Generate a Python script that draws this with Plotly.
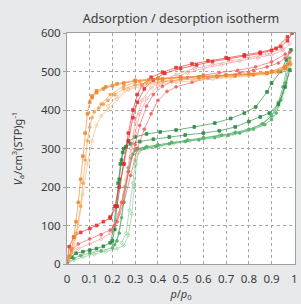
import plotly.graph_objects as go

# ---------------- data ----------------
# Orange samples
o1_ads_p = [0, 0.01, 0.02, 0.03, 0.04, 0.05, 0.06, 0.07, 0.08, 0.09, 0.10, 0.11, 0.13, 0.16, 0.20, 0.25, 0.30, 0.36, 0.42, 0.50, 0.58, 0.66, 0.74, 0.82, 0.88, 0.93, 0.96, 0.98]
o1_ads_v = [0, 20, 40, 70, 110, 160, 220, 280, 340, 390, 420, 432, 445, 455, 463, 470, 475, 478, 481, 484, 486, 488, 490, 492, 495, 500, 508, 520]
o1_des_p = [0.96, 0.90, 0.80, 0.70, 0.60, 0.50, 0.40, 0.30, 0.22, 0.17, 0.13, 0.11]
o1_des_v = [512, 500, 494, 491, 488, 486, 482, 477, 468, 460, 450, 436]

o2_ads_p = [0, 0.02, 0.04, 0.06, 0.07, 0.08, 0.09, 0.10, 0.11, 0.12, 0.14, 0.16, 0.18, 0.21, 0.25, 0.30, 0.35, 0.42, 0.50, 0.58, 0.66, 0.74, 0.82, 0.88, 0.93, 0.96, 0.98]
o2_ads_v = [0, 30, 80, 150, 210, 270, 320, 355, 380, 395, 405, 415, 425, 440, 455, 465, 470, 475, 479, 482, 485, 488, 491, 495, 500, 510, 528]
o2_des_p = [0.96, 0.90, 0.80, 0.70, 0.60, 0.50, 0.40, 0.32, 0.25, 0.19, 0.15]
o2_des_v = [515, 500, 494, 490, 487, 484, 480, 474, 462, 440, 415]

o3_ads_p = [0, 0.02, 0.03, 0.05, 0.07, 0.09, 0.11, 0.13, 0.15, 0.18, 0.22, 0.27, 0.33, 0.40, 0.48, 0.56, 0.64, 0.72, 0.80, 0.87, 0.92, 0.96, 0.98]
o3_ads_v = [0, 25, 40, 100, 180, 260, 320, 360, 385, 400, 428, 452, 462, 468, 472, 476, 480, 484, 488, 492, 497, 505, 515]
o3_des_p = [0.96, 0.90, 0.80, 0.70, 0.60, 0.50, 0.40, 0.33, 0.27, 0.22, 0.18]
o3_des_v = [508, 496, 490, 486, 482, 478, 472, 466, 455, 435, 410]

# Red samples
r1_ads_p = [0, 0.01, 0.03, 0.06, 0.10, 0.13, 0.16, 0.19, 0.21, 0.23, 0.25, 0.27, 0.29, 0.31, 0.34, 0.38, 0.43, 0.50, 0.57, 0.64, 0.71, 0.78, 0.85, 0.90, 0.94, 0.97, 0.99]
r1_ads_v = [0, 45, 70, 82, 92, 100, 110, 119, 150, 200, 260, 320, 380, 420, 455, 478, 495, 508, 517, 526, 533, 540, 547, 555, 565, 580, 600]
r1_des_p = [0.97, 0.92, 0.85, 0.78, 0.70, 0.62, 0.55, 0.48, 0.42, 0.37, 0.33, 0.31, 0.29, 0.27, 0.25, 0.22, 0.19]
r1_des_v = [590, 560, 550, 543, 536, 528, 520, 510, 498, 485, 465, 440, 400, 340, 260, 150, 122]

r2_ads_p = [0, 0.02, 0.05, 0.10, 0.15, 0.19, 0.22, 0.25, 0.28, 0.31, 0.34, 0.37, 0.40, 0.44, 0.48, 0.55, 0.62, 0.70, 0.76, 0.82, 0.88, 0.93, 0.96, 0.98]
r2_ads_v = [0, 35, 52, 65, 76, 88, 110, 160, 230, 300, 350, 390, 425, 448, 460, 472, 483, 490, 496, 503, 512, 522, 535, 550]
r2_des_p = [0.96, 0.90, 0.83, 0.75, 0.67, 0.60, 0.53, 0.46, 0.42, 0.38, 0.35, 0.32, 0.30, 0.27, 0.24, 0.21]
r2_des_v = [545, 525, 512, 503, 497, 491, 484, 474, 462, 440, 410, 360, 310, 240, 160, 100]

r3_ads_p = [0, 0.02, 0.05, 0.10, 0.15, 0.19, 0.22, 0.25, 0.28, 0.30, 0.32, 0.35, 0.40, 0.46, 0.53, 0.60, 0.68, 0.76, 0.84, 0.90, 0.95, 0.98]
r3_ads_v = [0, 25, 40, 52, 65, 80, 110, 180, 280, 340, 390, 430, 462, 482, 497, 508, 518, 527, 535, 543, 555, 572]
r3_des_p = [0.95, 0.88, 0.80, 0.72, 0.64, 0.56, 0.48, 0.42, 0.37, 0.33, 0.30, 0.28, 0.26, 0.23, 0.20]
r3_des_v = [560, 545, 536, 527, 518, 508, 492, 478, 458, 425, 370, 300, 220, 130, 85]

# Green samples
g1_ads_p = [0, 0.02, 0.04, 0.07, 0.10, 0.13, 0.16, 0.19, 0.205, 0.215, 0.225, 0.235, 0.245, 0.26, 0.28, 0.32, 0.38, 0.45, 0.52, 0.60, 0.67, 0.74, 0.80, 0.85, 0.89, 0.93, 0.96, 0.98]
g1_ads_v = [0, 18, 28, 32, 36, 40, 46, 55, 90, 150, 210, 260, 290, 305, 312, 318, 324, 330, 335, 340, 346, 356, 370, 382, 392, 415, 460, 504]
g1_des_p = [0.985, 0.965, 0.94, 0.90, 0.88, 0.83, 0.78, 0.72, 0.65, 0.56, 0.48, 0.41, 0.35, 0.30, 0.27, 0.25, 0.24, 0.23, 0.22, 0.21, 0.20]
g1_des_v = [556, 530, 500, 470, 447, 408, 392, 378, 366, 356, 348, 343, 338, 330, 318, 300, 270, 220, 150, 90, 60]

g2_ads_p = [0, 0.03, 0.06, 0.10, 0.15, 0.20, 0.22, 0.24, 0.255, 0.27, 0.28, 0.30, 0.34, 0.39, 0.45, 0.52, 0.58, 0.65, 0.71, 0.76, 0.82, 0.87, 0.90, 0.92, 0.94, 0.96, 0.98]
g2_ads_v = [0, 15, 22, 28, 34, 42, 60, 120, 200, 250, 275, 295, 300, 305, 312, 318, 322, 328, 334, 340, 350, 362, 375, 392, 425, 470, 535]
g2_des_p = [0.97, 0.95, 0.93, 0.90, 0.86, 0.80, 0.74, 0.68, 0.60, 0.53, 0.46, 0.40, 0.35, 0.31, 0.29, 0.27, 0.25, 0.23, 0.21]
g2_des_v = [520, 460, 420, 385, 364, 350, 342, 335, 328, 322, 316, 310, 305, 300, 285, 240, 160, 80, 50]

g3_ads_p = [0, 0.03, 0.07, 0.12, 0.17, 0.22, 0.25, 0.27, 0.285, 0.295, 0.305, 0.315, 0.33, 0.36, 0.41, 0.47, 0.54, 0.60, 0.67, 0.73, 0.79, 0.85, 0.89, 0.92, 0.945, 0.965, 0.985]
g3_ads_v = [0, 10, 18, 25, 32, 40, 48, 75, 130, 200, 260, 290, 298, 302, 306, 313, 320, 325, 332, 338, 346, 360, 380, 400, 430, 470, 520]
g3_des_p = [0.97, 0.95, 0.93, 0.90, 0.86, 0.80, 0.74, 0.67, 0.60, 0.53, 0.46, 0.40, 0.35, 0.32, 0.30, 0.29, 0.275, 0.26, 0.24]
g3_des_v = [490, 445, 410, 385, 364, 348, 340, 333, 327, 321, 315, 308, 303, 296, 270, 210, 140, 80, 55]

x_ticks = [0, 0.1, 0.2, 0.3, 0.4, 0.5, 0.6, 0.7, 0.8, 0.9, 1]
x_tick_labels = ["0", "0.1", "0.2", "0.3", "0.4", "0.5", "0.6", "0.7", "0.8", "0.9", "1"]
y_ticks = [0, 100, 200, 300, 400, 500, 600]

# ---------------- figure ----------------
series = [
    (g3_ads_p, g3_ads_v, g3_des_p, g3_des_v, "#86c995", "diamond-open"),
    (g2_ads_p, g2_ads_v, g2_des_p, g2_des_v, "#4fae64", "circle"),
    (g1_ads_p, g1_ads_v, g1_des_p, g1_des_v, "#23863d", "square"),
    (r3_ads_p, r3_ads_v, r3_des_p, r3_des_v, "#f59595", "diamond-open"),
    (r2_ads_p, r2_ads_v, r2_des_p, r2_des_v, "#f05a5a", "circle"),
    (r1_ads_p, r1_ads_v, r1_des_p, r1_des_v, "#e62a2a", "square"),
    (o3_ads_p, o3_ads_v, o3_des_p, o3_des_v, "#f8b878", "diamond-open"),
    (o2_ads_p, o2_ads_v, o2_des_p, o2_des_v, "#f59d48", "circle"),
    (o1_ads_p, o1_ads_v, o1_des_p, o1_des_v, "#f0862a", "square"),
]

fig = go.Figure()
for ap, av, dp, dv, col, sym in series:
    for xs, ys in ((ap, av), (dp, dv)):
        fig.add_trace(go.Scatter(
            x=xs, y=ys, mode="lines+markers",
            line=dict(color=col, width=0.7),
            marker=dict(color=col, size=2.8, symbol=sym, line=dict(color=col, width=0.8)),
            opacity=0.9,
            showlegend=False, hoverinfo="skip",
        ))

axis_common = dict(
    showgrid=True, gridcolor="#a6a6a6", griddash="dot", gridwidth=1,
    showline=True, linecolor="#a0a0a0", linewidth=1, mirror=True,
    zeroline=False, automargin=False, ticklabeloverflow="allow",
    tickfont=dict(size=11.5, color="#3a3a3a"),
)

fig.update_layout(
    width=301, height=304, autosize=False,
    margin=dict(l=67, r=6, t=33, b=40),
    paper_bgcolor="#e8e9eb", plot_bgcolor="#ffffff",
    font=dict(family="Noto Sans, Open Sans, sans-serif", color="#3a3a3a"),
    title=dict(text="Adsorption / desorption isotherm", x=0.5, xanchor="center", xref="paper",
               y=1 - 19 / 304, yref="container", yanchor="middle",
               font=dict(size=12.5, color="#3a3a3a")),
    xaxis=dict(range=[0, 1.003], tickvals=x_ticks, ticktext=x_tick_labels, ticks="",
               ticklabelstandoff=4,
               title=dict(text="<i>p</i>/<i>p</i><sub>0</sub>", standoff=2, font=dict(size=11)),
               **axis_common),
    yaxis=dict(range=[0, 600], tickvals=y_ticks, ticks="outside", ticklen=3, tickcolor="#a0a0a0",
               title=dict(text="<i>V</i><sub>a</sub>/cm<sup>3</sup>(STP)g<sup>-1</sup>", standoff=16, font=dict(size=11)),
               **axis_common),
)

fig.write_html(
    "out.html",
    config={"displayModeBar": False},
    post_script="document.documentElement.style.overflow='hidden';"
                "document.body.style.overflow='hidden';"
                "document.body.style.margin='0';document.body.style.padding='0';"
                "document.body.style.background='#e8e9eb';",
)
